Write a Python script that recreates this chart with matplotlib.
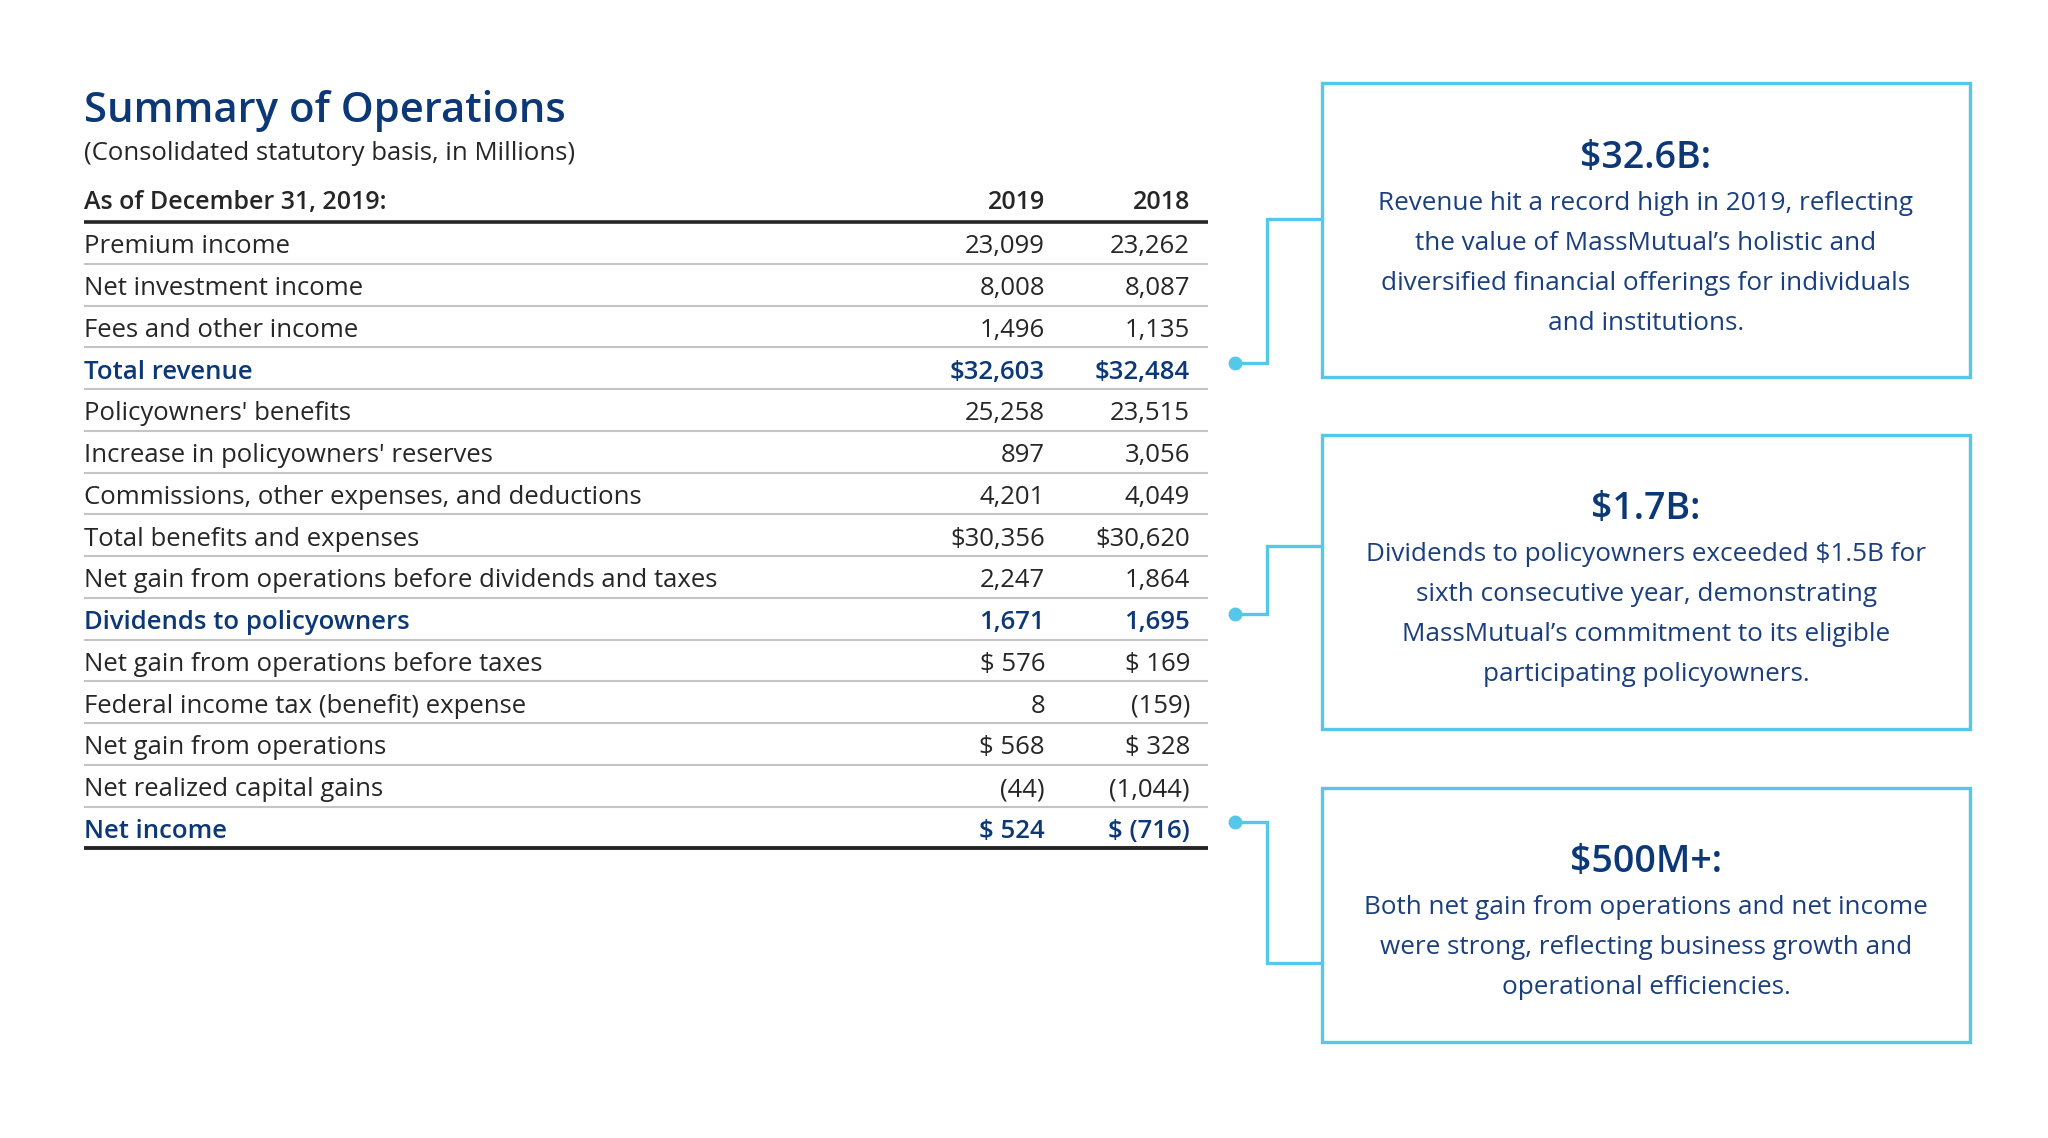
import matplotlib.pyplot as plt
from matplotlib.patches import Rectangle

# table content (in millions)
row_labels = ["Premium income", "Net investment income", "Fees and other income",
              "Total revenue", "Policyowners' benefits", "Increase in policyowners' reserves",
              "Commissions, other expenses, and deductions", "Total benefits and expenses",
              "Net gain from operations before dividends and taxes", "Dividends to policyowners",
              "Net gain from operations before taxes", "Federal income tax (benefit) expense",
              "Net gain from operations", "Net realized capital gains", "Net income"]
vals_2019 = ["23,099", "8,008", "1,496", "$32,603", "25,258", "897", "4,201", "$30,356",
             "2,247", "1,671", "$ 576", "8", "$ 568", "(44)", "$ 524"]
vals_2018 = ["23,262", "8,087", "1,135", "$32,484", "23,515", "3,056", "4,049", "$30,620",
             "1,864", "1,695", "$ 169", "(159)", "$ 328", "(1,044)", "$ (716)"]
highlight = [3, 9, 14]
col_years = ["2019", "2018"]

# callout boxes
headlines = ["$32.6B:", "$1.7B:", "$500M+:"]
bodies = [
    ["Revenue hit a record high in 2019, reflecting",
     "the value of MassMutual\u2019s holistic and",
     "diversified financial offerings for individuals",
     "and institutions."],
    ["Dividends to policyowners exceeded $1.5B for",
     "sixth consecutive year, demonstrating",
     "MassMutual\u2019s commitment to its eligible",
     "participating policyowners."],
    ["Both net gain from operations and net income",
     "were strong, reflecting business growth and",
     "operational efficiencies."],
]
anchor_rows = [3, 9, 14]

navy = "#0c3877"
body_blue = "#1b3f7e"
dark = "#262626"
cyan = "#55c8ea"
grey = "#c4c4c4"

plt.rcParams['font.family'] = ['Open Sans', 'DejaVu Sans']

fig = plt.figure(figsize=(20.48, 11.38), dpi=100)
ax = fig.add_axes([0, 0, 1, 1])
ax.set_xlim(0, 2048)
ax.set_ylim(1138, 0)
ax.axis('off')

# title
ax.text(84, 122, "Summary of Operations", fontsize=30.2, color=navy, fontweight='semibold', va='baseline')
ax.text(84, 160, "(Consolidated statutory basis, in Millions)", fontsize=18.5, color=dark, va='baseline')

# table layout
left, right = 84, 1208
col_x = [1045, 1190]
top = 222
row_h = 41.75
fs = 18.5

ax.text(left, 209, "As of December 31, 2019:", fontsize=18, color=dark, fontweight='semibold', va='baseline')
for x, yr in zip(col_x, col_years):
    ax.text(x, 209, yr, fontsize=18, color=dark, fontweight='semibold', va='baseline', ha='right')

for i, lab in enumerate(row_labels):
    y0 = top + i * row_h
    base = y0 + row_h / 2 + 10.5
    hl = i in highlight
    c = navy if hl else dark
    w = 'semibold' if hl else 'normal'
    ax.text(left, base, lab, fontsize=fs, color=c, fontweight=w, va='baseline')
    ax.text(col_x[0], base, vals_2019[i], fontsize=fs, color=c, fontweight=w, va='baseline', ha='right')
    ax.text(col_x[1], base, vals_2018[i], fontsize=fs, color=c, fontweight=w, va='baseline', ha='right')
    if i < len(row_labels) - 1:
        ax.plot([left, right], [y0 + row_h] * 2, color=grey, lw=1.5, solid_capstyle='butt')

ax.plot([left, right], [top, top], color=dark, lw=2.6, solid_capstyle='butt')
bottom = top + len(row_labels) * row_h
ax.plot([left, right], [bottom, bottom], color=dark, lw=2.8, solid_capstyle='butt')

# callout boxes and connectors
box_left, box_right = 1322, 1970
box_tops = [83, 435, 788]
box_bottoms = [377, 729, 1042]
join_y = [219, 546, 963]
title_base = [168, 519, 872]
line_gap = 40

for k in range(3):
    ax.add_patch(Rectangle((box_left, box_tops[k]), box_right - box_left,
                           box_bottoms[k] - box_tops[k], fill=False, ec=cyan, lw=2.4))
    cx = (box_left + box_right) / 2
    ax.text(cx, title_base[k], headlines[k], fontsize=27, color=navy, fontweight='semibold',
            ha='center', va='baseline')
    for j, line in enumerate(bodies[k]):
        ax.text(cx, title_base[k] + 42 + j * line_gap, line, fontsize=18.8, color=body_blue,
                ha='center', va='baseline')
    dot_y = top + anchor_rows[k] * row_h + row_h / 2 - 5
    ax.plot([1235, 1267, 1267, box_left], [dot_y, dot_y, join_y[k], join_y[k]],
            color=cyan, lw=2.4, solid_joinstyle='miter')
    ax.plot([1235], [dot_y], 'o', color=cyan, markersize=9)

fig.savefig("out.png", dpi=100, facecolor='white')
